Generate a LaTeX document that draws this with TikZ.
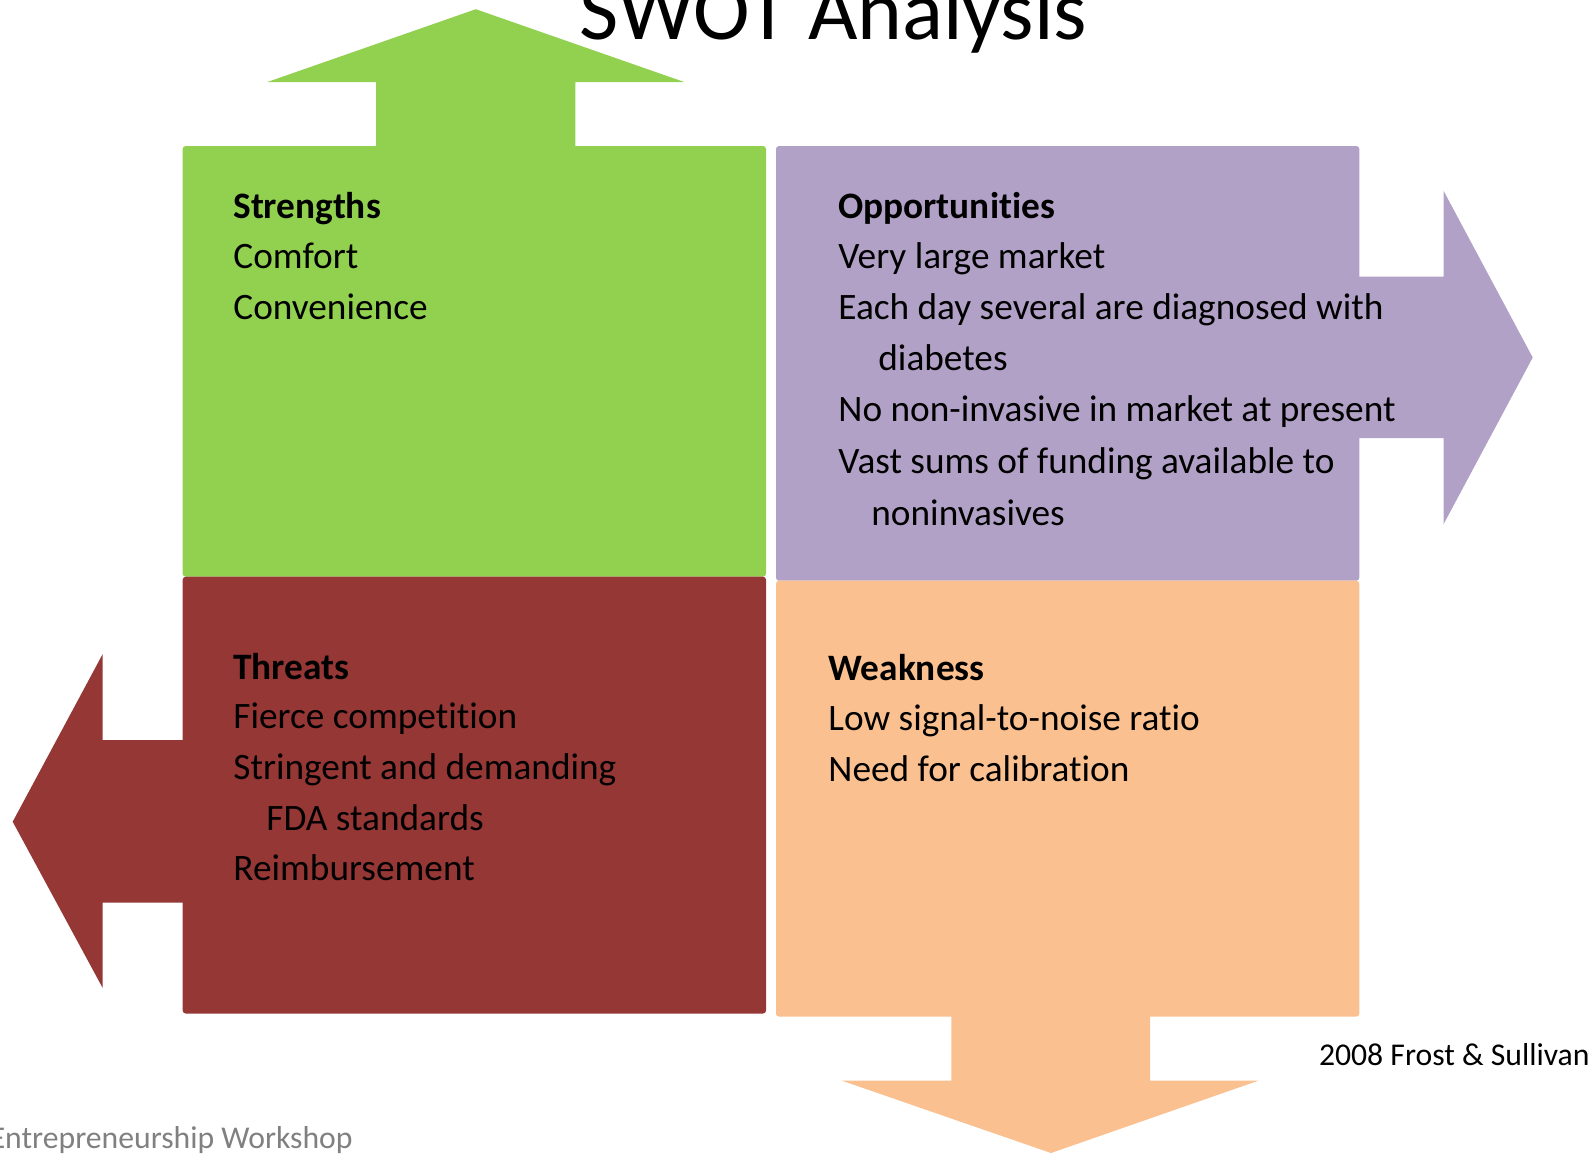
\documentclass[tikz,border=0pt]{standalone}
\usepackage{fontspec}
\setmainfont{Carlito}[Ligatures={NoCommon}]
\definecolor{swgreen}{RGB}{146,208,80}
\definecolor{swpurple}{RGB}{178,161,199}
\definecolor{swred}{RGB}{149,55,53}
\definecolor{sworange}{RGB}{250,192,144}
\definecolor{swgray}{RGB}{128,128,128}
\tikzset{
  body/.style={anchor=base west, inner sep=0pt, font=\fontsize{18.65}{22}\selectfont, text=black},
  head/.style={body, font=\fontsize{18.65}{22}\selectfont\bfseries},
  quad/.style={rounded corners=1.5pt},
}
\begin{document}
\begin{tikzpicture}[x=0.5pt,y=-0.5pt]
\useasboundingbox (0,0) rectangle (1594,1153);
% arrows
\fill[swgreen] (376,300) -- (376,82) -- (267.4,82) -- (475.8,9.2) -- (684.2,82) -- (575.4,82) -- (575.4,300) -- cycle;
\fill[swpurple] (1300,276.7) -- (1443.5,276.7) -- (1443.5,190.7) -- (1532.7,357.5) -- (1443.5,524.3) -- (1443.5,438) -- (1300,438) -- cycle;
\fill[swred] (250,740) -- (102.7,740) -- (102.7,654) -- (12.7,821.7) -- (102.7,988) -- (102.7,902.7) -- (250,902.7) -- cycle;
\fill[sworange] (951.3,950) -- (951.3,1080.6) -- (841.7,1080.6) -- (1051,1153) -- (1258.5,1080.6) -- (1150,1080.6) -- (1150,950) -- cycle;
% quadrants
\fill[swgreen, quad] (182.7,146) rectangle (766,576.7);
\fill[swpurple, quad] (776,146) rectangle (1359.3,580.7);
\fill[swred, quad] (182.7,576.7) rectangle (766,1013.5);
\fill[sworange, quad] (776,580.7) rectangle (1359.3,1016.6);
% title
\node[anchor=base west, inner sep=0pt, font=\fontsize{42.7}{50}\selectfont] (title) at (579,39) {SWOT Analysis};
% strengths
\node[head] (sh) at (233,218.5) {Strengths};
\node[body] (s1) at (233,268) {Comfort};
\node[body] (s2) at (233,319) {Convenience};
% opportunities
\node[head] (oh) at (838,218.5) {Opportunities};
\node[body] (o1) at (838,268) {Very large market};
\node[body] (o2) at (838,319) {Each day several are diagnosed with};
\node[body] (o2b) at (878,370) {diabetes};
\node[body] (o3) at (838,421.5) {No non-invasive in market at present};
\node[body] (o4) at (838,473) {Vast sums of funding available to};
\node[body] (o4b) at (871,525) {noninvasives};
% threats
\node[head] (th) at (233,679) {Threats};
\node[body] (t1) at (233,728) {Fierce competition};
\node[body] (t2) at (233,779) {Stringent and demanding};
\node[body] (t2b) at (266,830) {FDA standards};
\node[body] (t3) at (233,880.5) {Reimbursement};
% weakness
\node[head] (wh) at (828,680.5) {Weakness};
\node[body] (w1) at (828,730.5) {Low signal-to-noise ratio};
\node[body] (w2) at (828,781.5) {Need for calibration};
% footers
\node[anchor=base east, inner sep=0pt, font=\fontsize{15.85}{19}\selectfont] (src) at (1590,1065) {2008 Frost \& Sullivan};
\node[anchor=base east, inner sep=0pt, font=\fontsize{15.85}{19}\selectfont, text=swgray] (ws) at (353,1148) {Entrepreneurship Workshop};
\end{tikzpicture}
\end{document}
